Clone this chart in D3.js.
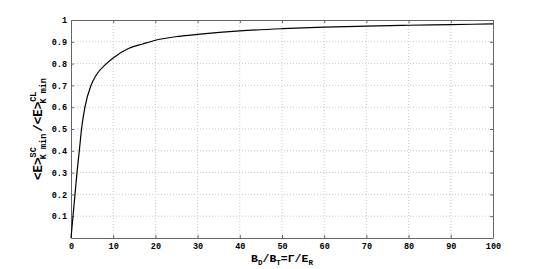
<!DOCTYPE html>
<html>
<head>
<meta charset="utf-8">
<script src="https://cdn.jsdelivr.net/npm/d3@7"></script>
<style>
  body { margin: 0; background: #fff; }
  svg { display: block; }
  .tick text { font-family: "Liberation Mono", "DejaVu Sans Mono", monospace; font-weight: bold; font-size: 8.5px; fill: #000; }
  .grid line { stroke: #c8c8c8; stroke-dasharray: 1,2; }
  .label { font-family: "Liberation Mono", "DejaVu Sans Mono", monospace; font-weight: bold; fill: #000; }
</style>
</head>
<body>
<svg id="chart"></svg>
<script>
const W = 545, H = 269;
const margin = {top: 20, right: 52, bottom: 31, left: 71};
const width = W - margin.left - margin.right;
const height = H - margin.top - margin.bottom;

// values
const ratioX = [0, 0.47, 0.95, 1.42, 1.97, 2.5, 3.3, 4.74, 6, 8.4, 10, 13.6, 17, 20, 25.5, 30, 40, 50, 60, 70, 80, 90, 100];
const ratioY = [0, 0.1, 0.2, 0.3, 0.4, 0.5, 0.6, 0.7, 0.748, 0.8, 0.826, 0.869, 0.89, 0.907, 0.925, 0.934, 0.95, 0.96, 0.967, 0.972, 0.976, 0.979, 0.982];
const xTicks = [0, 10, 20, 30, 40, 50, 60, 70, 80, 90, 100];
const yTicks = [0.1, 0.2, 0.3, 0.4, 0.5, 0.6, 0.7, 0.8, 0.9, 1];

const data = ratioX.map((d, i) => ({x: d, y: ratioY[i]}));

const x = d3.scaleLinear().domain([0, 100]).range([0, width]);
const y = d3.scaleLinear().domain([0, 1]).range([height, 0]);

const svg = d3.select('#chart').attr('width', W).attr('height', H);
const chart = svg.append('g')
    .attr('transform', `translate(${ margin.left },${ margin.top })`);

// dotted grid
chart.append('g').attr('class', 'grid')
  .selectAll('line').data(xTicks.slice(1, -1)).enter().append('line')
    .attr('x1', (d) => x(d)).attr('x2', (d) => x(d))
    .attr('y1', 0).attr('y2', height);
chart.append('g').attr('class', 'grid')
  .selectAll('line').data(yTicks.slice(0, -1)).enter().append('line')
    .attr('y1', (d) => y(d)).attr('y2', (d) => y(d))
    .attr('x1', 0).attr('x2', width);

// axes with inward ticks, mirrored top/right
const fmt = (d) => d === 1 ? '1' : d3.format('.1f')(d);
chart.append('g').attr('class', 'frame')
    .attr('transform', `translate(0,${ height })`)
    .call(d3.axisBottom(x).tickValues(xTicks).tickSizeInner(-3).tickSizeOuter(0).tickPadding(5));
chart.append('g').attr('class', 'frame')
    .call(d3.axisLeft(y).tickValues(yTicks).tickFormat(fmt).tickSizeInner(-3).tickSizeOuter(0).tickPadding(4));
chart.append('g').attr('class', 'frame')
    .call(d3.axisTop(x).tickValues(xTicks).tickSizeInner(-3).tickSizeOuter(0).tickFormat(''));
chart.append('g').attr('class', 'frame')
    .attr('transform', `translate(${ width },0)`)
    .call(d3.axisRight(y).tickValues(yTicks).tickSizeInner(-3).tickSizeOuter(0).tickFormat(''));
chart.selectAll('.frame .domain').attr('stroke', '#666');
chart.selectAll('.frame .tick line').attr('stroke', '#666');

// curve
const line = d3.line()
    .x((d) => x(d.x))
    .y((d) => y(d.y))
    .curve(d3.curveMonotoneX);
chart.append('path')
    .datum(data)
    .attr('fill', 'none')
    .attr('stroke', '#000')
    .attr('stroke-width', 1.2)
    .attr('d', line);

// x label: B_D/B_T=Γ/E_R
const xl = svg.append('text').attr('class', 'label')
    .attr('x', margin.left + width / 2).attr('y', 262)
    .attr('text-anchor', 'middle').style('font-size', '11.5px');
xl.append('tspan').text('B');
xl.append('tspan').attr('dy', 3).style('font-size', '7.5px').text('D');
xl.append('tspan').attr('dy', -3).text('/B');
xl.append('tspan').attr('dy', 3).style('font-size', '7.5px').text('T');
xl.append('tspan').attr('dy', -3).text('=Γ/E');
xl.append('tspan').attr('dy', 3).style('font-size', '7.5px').text('R');

// y label: <E>^SC_Kmin / <E>^CL_Kmin
const yl = svg.append('text').attr('class', 'label')
    .attr('transform', `translate(42,${ margin.top + height / 2 }) rotate(-90)`)
    .attr('text-anchor', 'middle').style('font-size', '12.5px');
yl.append('tspan').text('<E>');
yl.append('tspan').attr('dy', -6).style('font-size', '8.5px').text('SC');
yl.append('tspan').attr('dx', -12).attr('dy', 10).style('font-size', '8.5px').text('K min');
yl.append('tspan').attr('dy', -4).attr('dx', 2).text('/<E>');
yl.append('tspan').attr('dy', -6).style('font-size', '8.5px').text('CL');
yl.append('tspan').attr('dx', -12).attr('dy', 10).style('font-size', '8.5px').text('K min');
</script>
</body>
</html>
